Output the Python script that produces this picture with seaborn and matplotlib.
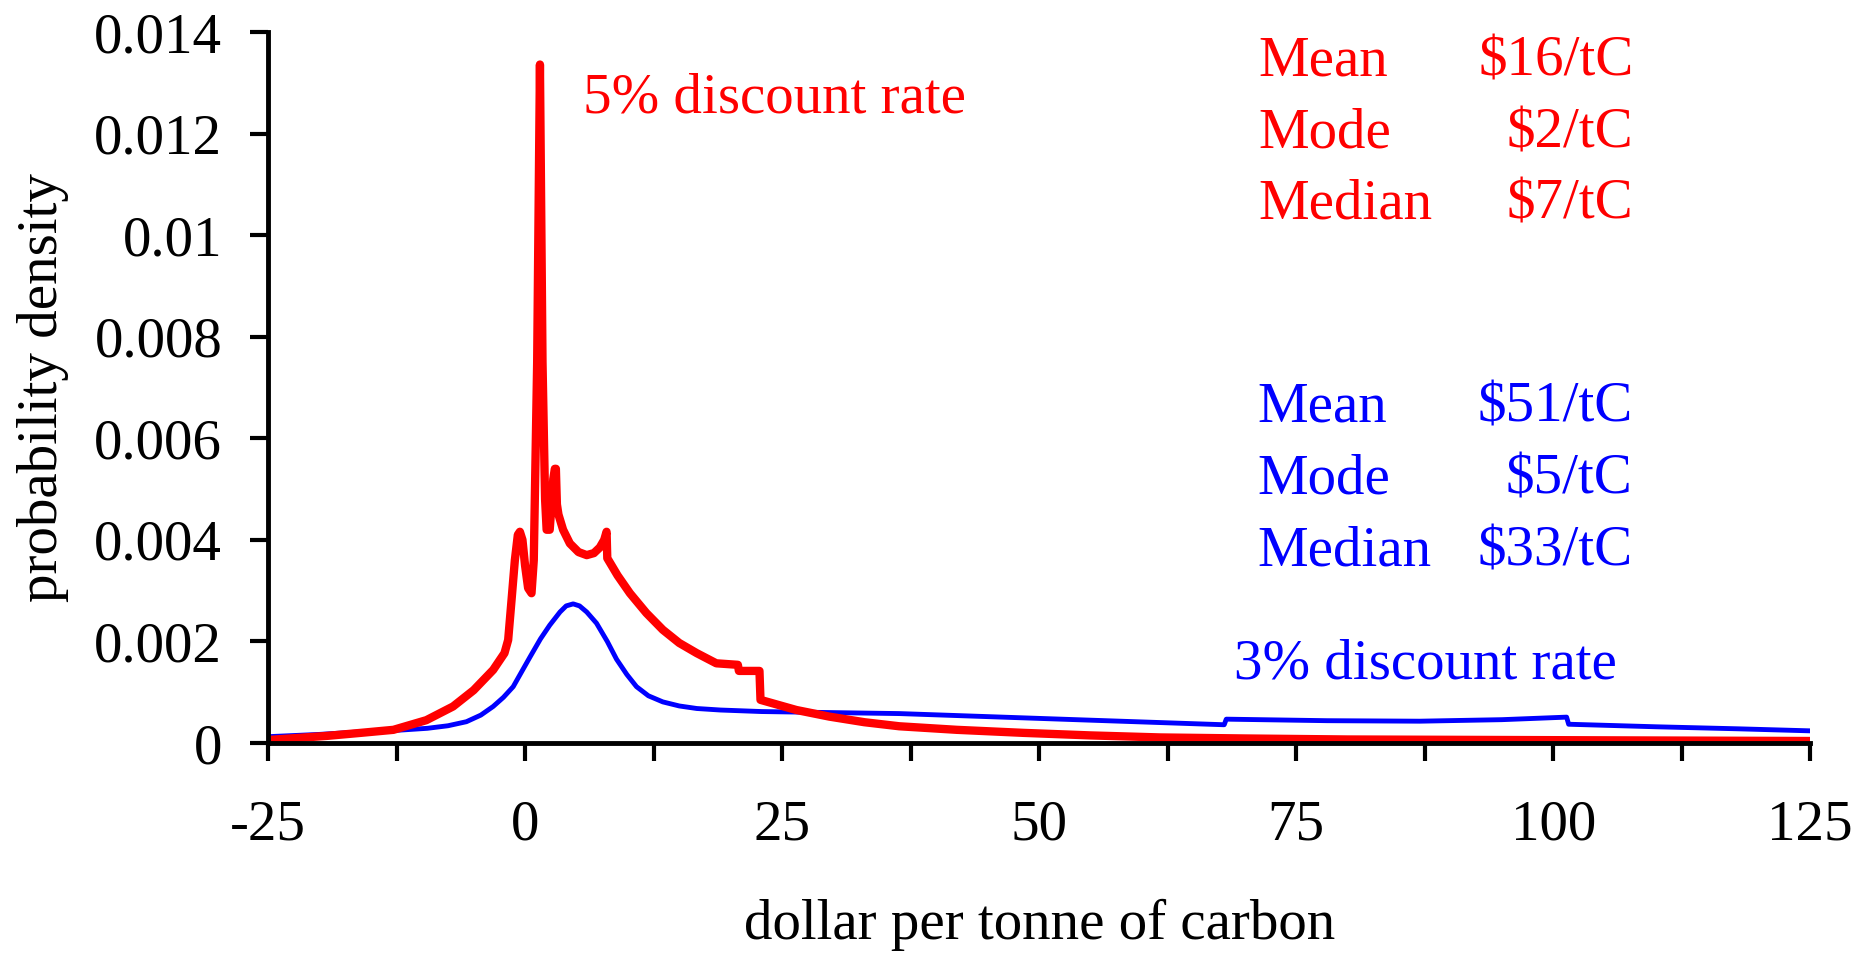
import pandas as pd
import numpy as np
import matplotlib.pyplot as plt
import seaborn as sns

sns.set_style("ticks")
plt.rcParams['font.family'] = ['Liberation Serif', 'DejaVu Serif']
for k in ['text.color', 'axes.labelcolor', 'xtick.color', 'ytick.color', 'axes.edgecolor']:
    plt.rcParams[k] = 'black'

# Data (dollar per tonne of carbon vs probability density)
red_x = [-25, -19.3, -16, -12.8, -9.6, -7.0, -5.0, -3.1, -2.0, -1.64, -1.31, -0.99, -0.7, -0.5,
         -0.25, 0.0, 0.3, 0.63, 0.85, 1.18, 1.45, 1.7, 1.95, 2.1, 2.4, 2.75, 2.9, 3.0, 3.1,
         3.25, 3.7, 4.36, 5.2, 6.0, 6.7, 7.27, 7.7, 7.93, 8.0, 9.0, 10.2, 11.8, 13.4, 15.0,
         16.7, 18.6, 20.7, 20.8, 22.8, 22.9, 26.4, 29.6, 33.0, 36.4, 42, 48.5, 55, 61.8, 70,
         80, 95, 110, 125]
red_y = [0.00006, 0.00014, 0.0002, 0.00026, 0.00045, 0.00072, 0.00104, 0.00144, 0.00177,
         0.00203, 0.00282, 0.0036, 0.0041, 0.00416, 0.0040, 0.0035, 0.00305, 0.00295, 0.0036,
         0.0075, 0.01336, 0.0075, 0.0048, 0.0042, 0.0042, 0.0052, 0.0054, 0.0054, 0.0047,
         0.0045, 0.0042, 0.00393, 0.00376, 0.0037, 0.00374, 0.00385, 0.004, 0.00416, 0.00364,
         0.0033, 0.00295, 0.00256, 0.00223, 0.00197, 0.00177, 0.00157, 0.00154, 0.00142,
         0.00142, 0.00085, 0.00065, 0.00052, 0.00041, 0.00033, 0.00026, 0.0002, 0.00015,
         0.00011, 0.00009, 0.00007, 0.00006, 0.00005, 0.00004]

blue_x = [-25, -20, -16, -12.5, -9.5, -7.5, -5.7, -4.3, -3.1, -2.1, -1.15, -0.2, 0.5, 1.5, 2.4,
          3.4, 4.0, 4.68, 5.3, 6.0, 6.95, 8.0, 8.9, 9.9, 10.84, 12.0, 13.4, 15.0, 16.7, 19.0,
          23.0, 29.6, 36.4, 45, 55, 68.0, 68.2, 78, 87, 95, 101.3, 101.5, 110, 118, 125]
blue_y = [0.000125, 0.00017, 0.00022, 0.00025, 0.00029, 0.00034, 0.00042, 0.00055, 0.00072,
          0.0009, 0.00111, 0.00145, 0.0017, 0.00205, 0.00232, 0.00258, 0.0027, 0.00274, 0.0027,
          0.00258, 0.00236, 0.002, 0.00165, 0.00135, 0.00111, 0.00093, 0.00081, 0.00073,
          0.00068, 0.00065, 0.00062, 0.0006, 0.00058, 0.00052, 0.00045, 0.00036, 0.00047,
          0.00044, 0.00043, 0.00046, 0.00051, 0.00037, 0.00032, 0.00028, 0.00024]

y_ticks = [0, 0.002, 0.004, 0.006, 0.008, 0.01, 0.012, 0.014]
y_labels = ['0', '0.002', '0.004', '0.006', '0.008', '0.01', '0.012', '0.014']
x_ticks = [-25, -12.5, 0, 12.5, 25, 37.5, 50, 62.5, 75, 87.5, 100, 112.5, 125]
x_labels = ['-25', '', '0', '', '25', '', '50', '', '75', '', '100', '', '125']

stat_names = ['Mean', 'Mode', 'Median']
red_stats = ['$16/tC', '$2/tC', '$7/tC']
blue_stats = ['$51/tC', '$5/tC', '$33/tC']

df_red = pd.DataFrame({'x': red_x, 'y': red_y})
df_blue = pd.DataFrame({'x': blue_x, 'y': blue_y})

fig = plt.figure(figsize=(18.74, 9.59), dpi=100)
ax = fig.add_axes([0.143, 0.2252, 0.823, 0.7414])

sns.lineplot(data=df_blue, x='x', y='y', sort=False, estimator=None, color='#0000FF', lw=3.5, ax=ax)
sns.lineplot(data=df_red, x='x', y='y', sort=False, estimator=None, color='#FF0000', lw=6, ax=ax)

ax.set_xlim(-25, 125)
ax.set_ylim(0, 0.014)
ax.set_xticks(x_ticks)
ax.set_xticklabels(x_labels)
ax.set_yticks(y_ticks)
ax.set_yticklabels(y_labels)
ax.tick_params(axis='both', labelsize=41, length=13, width=3, direction='out')
ax.tick_params(axis='x', pad=28)
ax.tick_params(axis='y', pad=20)
sns.despine(ax=ax)
for s in ['left', 'bottom']:
    ax.spines[s].set_linewidth(3.5)
ax.set_xlabel('dollar per tonne of carbon', fontsize=41, labelpad=34)
ax.set_ylabel('probability density', fontsize=41, labelpad=18)

# Annotations
fs = 41
ax.text(5.6, 0.0127, '5% discount rate', color='#FF0000', fontsize=fs, va='center', ha='left')
ax.text(69.0, 0.00155, '3% discount rate', color='#0000FF', fontsize=fs, va='center', ha='left')
red_rows = [0.01342, 0.01201, 0.0106]
blue_rows = [0.0066, 0.00518, 0.00377]
for name, val, yy in zip(stat_names, red_stats, red_rows):
    ax.text(71.3, yy, name, color='#FF0000', fontsize=fs, va='center', ha='left')
    ax.text(107.8, yy, val, color='#FF0000', fontsize=fs, va='center', ha='right')
for name, val, yy in zip(stat_names, blue_stats, blue_rows):
    ax.text(71.2, yy, name, color='#0000FF', fontsize=fs, va='center', ha='left')
    ax.text(107.7, yy, val, color='#0000FF', fontsize=fs, va='center', ha='right')

plt.savefig('out.png', dpi=100)
